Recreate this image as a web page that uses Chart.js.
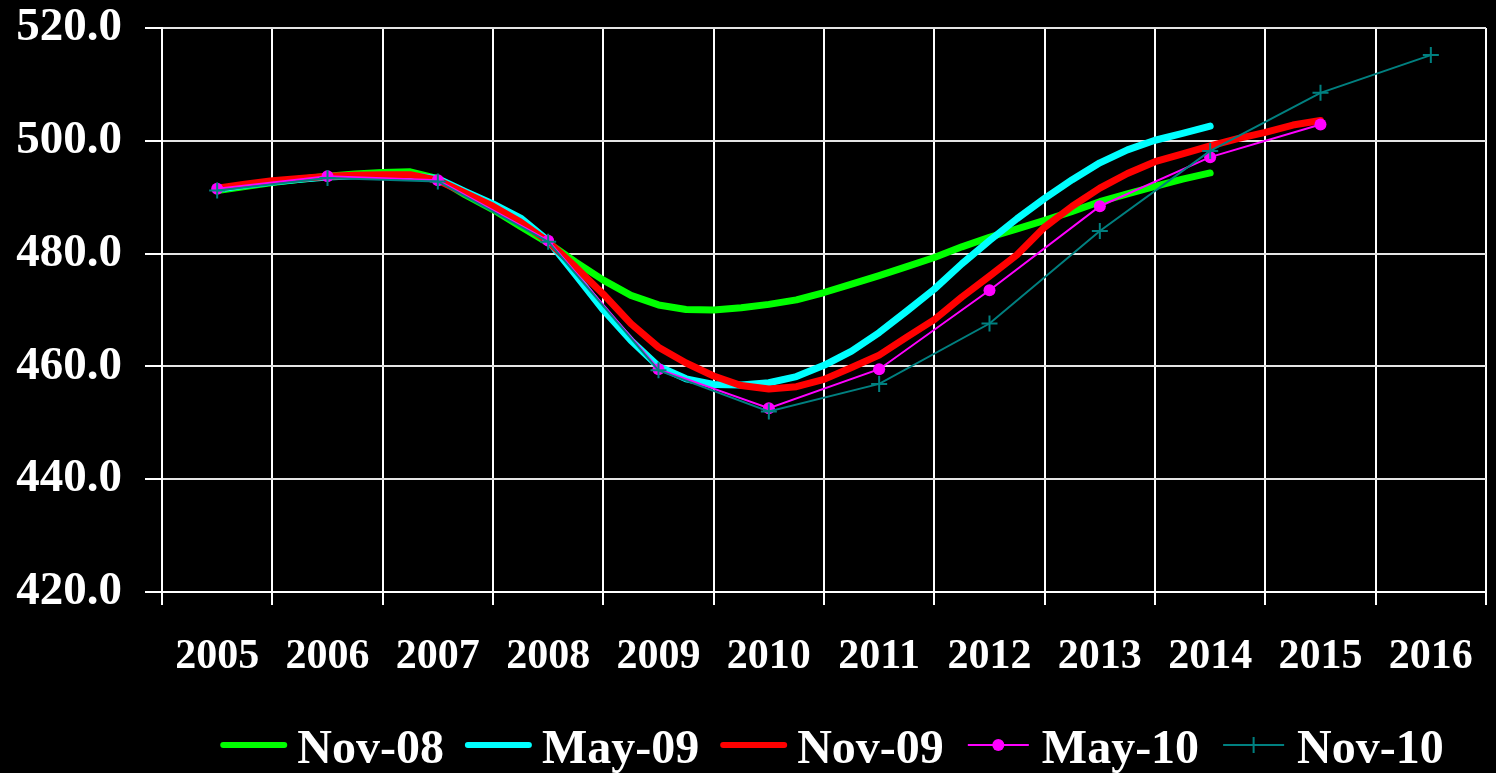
<!DOCTYPE html>
<html>
<head>
<meta charset="utf-8">
<script src="https://cdn.jsdelivr.net/npm/chart.js@4/dist/chart.umd.min.js"></script>
<style>
  html, body { margin: 0; padding: 0; background: #000; }
  #wrap { width: 1496px; height: 773px; position: relative; background: #000; }
</style>
</head>
<body>
<div id="wrap"><canvas id="c"></canvas></div>
<script>
// Year categories along the bottom axis
const years = ['2005', '2006', '2007', '2008', '2009', '2010', '2011', '2012', '2013', '2014', '2015', '2016'];
// Value axis ticks
const yTicks = [420, 440, 460, 480, 500, 520];

// Quarterly forecast paths (first value sits at the middle of 2005)
const nov08 = [491.2, 491.9, 492.6, 493.2, 493.7, 494.1, 494.4, 494.5, 493.3, 490.4, 487.8, 484.8,
               481.9, 478.5, 475.3, 472.6, 470.9, 470.1, 470.0, 470.4, 471.0, 471.8, 473.1, 474.6,
               476.1, 477.7, 479.3, 481.2, 482.9, 484.4, 485.9, 487.5, 489.2, 490.6, 491.9, 493.2, 494.3];
const may09 = [491.4, 492.1, 492.7, 493.2, 493.6, 493.8, 493.9, 493.8, 493.3, 491.0, 488.8, 486.3,
               482.3, 476.2, 470.0, 464.6, 460.0, 457.8, 456.8, 456.7, 457.1, 458.2, 460.2, 462.7,
               466.0, 469.8, 473.7, 478.2, 482.3, 486.2, 489.8, 493.1, 496.1, 498.4, 500.1, 501.3, 502.6];
const nov09 = [491.6, 492.3, 492.9, 493.3, 493.7, 493.9, 494.0, 494.0, 493.0, 490.7, 488.4, 485.6,
               482.1, 477.6, 472.8, 467.6, 463.4, 460.6, 458.3, 456.6, 456.0, 456.4, 457.7, 459.8,
               462.0, 465.2, 468.3, 472.3, 476.0, 479.8, 484.7, 488.4, 491.6, 494.2, 496.3, 497.7,
               499.1, 500.4, 501.5, 502.8, 503.6];
// Annual forecast paths
const may10 = [491.5, 493.7, 493.0, 482.3, 459.5, 452.6, 459.5, 473.5, 488.4, 497.1, 502.9];
const nov10 = [491.2, 493.4, 492.8, 482.1, 459.3, 452.0, 456.9, 467.6, 484.0, 498.2, 508.5, 515.2];

const seriesNames = ['Nov-08', 'May-09', 'Nov-09', 'May-10', 'Nov-10'];
const seriesColors = ['#00ff00', '#00ffff', '#ff0000', '#ff00ff', '#008080'];

// x runs in quarters: 4 per year, year i is centred on 4*i + 2
const quarterly = vals => vals.map((v, k) => ({ x: 2 + k, y: v }));
const annual = vals => vals.map((v, i) => ({ x: 2 + 4 * i, y: v }));

const serifBold = size => ({ family: "'Liberation Serif', 'Times New Roman', serif", weight: 'bold', size: size });

const thick = (label, color, data, order) => ({
  label, data, order,
  borderColor: color, backgroundColor: color,
  borderWidth: 7, pointRadius: 0, tension: 0,
  borderJoinStyle: 'round', borderCapStyle: 'round'
});

// Fill the canvas black before anything is drawn
const blackBackground = {
  id: 'blackBackground',
  beforeDraw(chart) {
    const ctx = chart.ctx;
    ctx.save();
    ctx.fillStyle = '#000';
    ctx.fillRect(0, 0, chart.width, chart.height);
    ctx.restore();
  }
};

// Key along the bottom: line sample, optional marker, then series name
const seriesKey = {
  id: 'seriesKey',
  afterDraw(chart) {
    const ctx = chart.ctx;
    const sample = 67, toText = 10, itemGap = 21, yLine = 745, yText = 763;
    ctx.save();
    ctx.font = "bold 48px 'Liberation Serif', 'Times New Roman', serif";
    const widths = seriesNames.map(n => ctx.measureText(n).width);
    const total = widths.reduce((a, b) => a + b, 0) + seriesNames.length * (sample + toText) + (seriesNames.length - 1) * itemGap;
    const area = chart.chartArea;
    let x = (area.left + area.right) / 2 - total / 2 + 8;
    chart.data.datasets.slice().sort((a, b) => seriesNames.indexOf(a.label) - seriesNames.indexOf(b.label)).forEach((ds, i) => {
      const color = ds.borderColor;
      ctx.strokeStyle = color;
      ctx.lineCap = ds.borderWidth > 3 ? 'round' : 'butt';
      ctx.lineWidth = ds.borderWidth > 3 ? 6 : 2;
      ctx.beginPath();
      ctx.moveTo(x + 3, yLine);
      ctx.lineTo(x + sample - 3, yLine);
      ctx.stroke();
      const cx = x + sample / 2;
      if (ds.pointStyle === 'circle' && ds.pointRadius > 0) {
        ctx.fillStyle = color;
        ctx.beginPath();
        ctx.arc(cx, yLine, 6, 0, Math.PI * 2);
        ctx.fill();
      } else if (ds.pointStyle === 'cross') {
        ctx.lineWidth = 2;
        ctx.beginPath();
        ctx.moveTo(cx - 8, yLine); ctx.lineTo(cx + 8, yLine);
        ctx.moveTo(cx, yLine - 8); ctx.lineTo(cx, yLine + 8);
        ctx.stroke();
      }
      ctx.fillStyle = '#ffffff';
      ctx.textBaseline = 'alphabetic';
      ctx.textAlign = 'left';
      ctx.fillText(ds.label, x + sample + toText, yText);
      x += sample + toText + widths[i] + itemGap;
    });
    ctx.restore();
  }
};

new Chart(document.getElementById('c'), {
  type: 'line',
  data: {
    datasets: [
      thick(seriesNames[0], seriesColors[0], quarterly(nov08), 5),
      thick(seriesNames[1], seriesColors[1], quarterly(may09), 4),
      thick(seriesNames[2], seriesColors[2], quarterly(nov09), 3),
      {
        label: seriesNames[3], data: annual(may10), order: 2,
        borderColor: seriesColors[3], backgroundColor: seriesColors[3],
        borderWidth: 2, tension: 0,
        pointStyle: 'circle', pointRadius: 6, pointBorderWidth: 0,
        pointBackgroundColor: seriesColors[3]
      },
      {
        label: seriesNames[4], data: annual(nov10), order: 1,
        borderColor: seriesColors[4], backgroundColor: seriesColors[4],
        borderWidth: 2, tension: 0,
        pointStyle: 'cross', pointRadius: 8, pointBorderWidth: 2,
        pointBorderColor: seriesColors[4]
      }
    ]
  },
  options: {
    responsive: true,
    maintainAspectRatio: false,
    animation: false,
    events: [],
    layout: { padding: { top: 28, right: 8, bottom: 81, left: 0 } },
    plugins: { legend: { display: false }, tooltip: { enabled: false } },
    scales: {
      x: {
        type: 'linear',
        min: 0,
        max: years.length * 4,
        afterBuildTicks: scale => {
          const ticks = [];
          for (let q = 0; q <= years.length * 4; q += 2) ticks.push({ value: q });
          scale.ticks = ticks;
        },
        afterFit: scale => {
          scale.height = 100;
          scale.paddingLeft = 0;
          scale.paddingRight = 0;
        },
        ticks: {
          autoSkip: false,
          maxRotation: 0,
          minRotation: 0,
          padding: 27,
          color: '#ffffff',
          font: serifBold(42),
          callback: value => (value % 4 === 2 ? years[(value - 2) / 4] : '')
        },
        grid: {
          color: ctx => (ctx.tick && ctx.tick.value % 4 === 0 ? '#ffffff' : 'rgba(0,0,0,0)'),
          tickColor: ctx => (ctx.tick && ctx.tick.value % 4 === 0 ? '#ffffff' : 'rgba(0,0,0,0)'),
          lineWidth: 2,
          tickLength: 13
        },
        border: { color: '#ffffff', width: 2 }
      },
      y: {
        type: 'linear',
        min: yTicks[0],
        max: yTicks[yTicks.length - 1],
        afterBuildTicks: scale => { scale.ticks = yTicks.map(v => ({ value: v })); },
        afterFit: scale => {
          scale.width = 162;
          scale.paddingTop = 0;
          scale.paddingBottom = 0;
        },
        ticks: {
          padding: 23,
          color: '#ffffff',
          font: serifBold(47),
          callback: value => Number(value).toFixed(1)
        },
        grid: {
          color: '#e4e4e4',
          tickColor: '#ffffff',
          lineWidth: 2,
          tickLength: 17
        },
        border: { color: '#ffffff', width: 2 }
      }
    }
  },
  plugins: [blackBackground, seriesKey]
});
</script>
</body>
</html>
